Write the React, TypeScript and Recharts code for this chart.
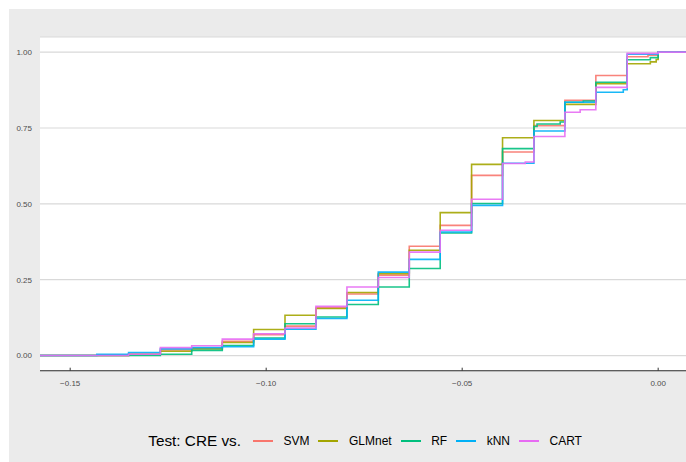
import { LineChart, Line, XAxis, YAxis, CartesianGrid } from 'recharts';

// ECDF breakpoints (x) and cumulative share per model after each step
const stepX = [
  -0.1577, -0.1432, -0.1351, -0.127, -0.119, -0.1112, -0.1032, -0.0952, -0.0873, -0.0794,
  -0.0714, -0.0635, -0.0556, -0.0476, -0.0397, -0.0339, -0.0317, -0.0309, -0.025, -0.0238,
  -0.0199, -0.0191, -0.0159, -0.0089, -0.0079, -0.0026, -0.002, -0.0005, 0, 0.0071,
];
const svm = [
  0, 0, 0.004, 0.018, 0.024, 0.047, 0.069, 0.097, 0.158, 0.203,
  0.265, 0.36, 0.429, 0.594, 0.671, 0.671, 0.758, 0.758, 0.758, 0.841,
  0.841, 0.841, 0.923, 0.923, 0.985, 0.99, 0.99, 0.99, 1, 1,
];
const glmnet = [
  0, 0, 0.004, 0.014, 0.022, 0.043, 0.086, 0.133, 0.155, 0.208,
  0.27, 0.347, 0.471, 0.63, 0.718, 0.718, 0.775, 0.775, 0.775, 0.828,
  0.828, 0.828, 0.896, 0.896, 0.962, 0.962, 0.968, 0.976, 1, 1,
];
const rf = [
  0, 0, 0, 0.004, 0.017, 0.033, 0.058, 0.105, 0.127, 0.168,
  0.226, 0.287, 0.404, 0.501, 0.682, 0.682, 0.755, 0.763, 0.77, 0.835,
  0.835, 0.839, 0.901, 0.901, 0.975, 0.975, 0.982, 0.982, 1, 1,
];
const knn = [
  0, 0.004, 0.01, 0.022, 0.026, 0.029, 0.054, 0.087, 0.122, 0.182,
  0.275, 0.317, 0.407, 0.495, 0.634, 0.634, 0.74, 0.74, 0.74, 0.835,
  0.835, 0.835, 0.868, 0.876, 0.993, 0.993, 0.993, 0.993, 1, 1,
];
const cart = [
  0, 0, 0.004, 0.026, 0.032, 0.054, 0.072, 0.091, 0.162, 0.226,
  0.257, 0.341, 0.413, 0.515, 0.633, 0.638, 0.722, 0.722, 0.722, 0.802,
  0.81, 0.81, 0.884, 0.884, 0.996, 0.996, 0.996, 0.996, 1, 1,
];

const xTicks = [-0.15, -0.1, -0.05, 0];
const yTicks = [0, 0.25, 0.5, 0.75, 1];

const series = [
  { key: 'SVM', values: svm, color: '#F8766D' },
  { key: 'GLMnet', values: glmnet, color: '#A3A500' },
  { key: 'RF', values: rf, color: '#00BF7D' },
  { key: 'kNN', values: knn, color: '#00B0F6' },
  { key: 'CART', values: cart, color: '#E76BF3' },
];

const data = stepX.map((x, i) => {
  const row: Record<string, number> = { x };
  series.forEach((s) => {
    row[s.key] = s.values[i];
  });
  return row;
});

const fmtX = (v: number) => (v < 0 ? `\u2212${Math.abs(v).toFixed(2)}` : v.toFixed(2));

function XTick({ x, y, payload }: any) {
  return (
    <g>
      <line x1={x} x2={x} y1={y - 3} y2={y} stroke="#333" strokeWidth={1} />
      <text x={x} y={y + 15} textAnchor="middle" fontSize={8} fill="#4D4D4D">
        {fmtX(payload.value)}
      </text>
    </g>
  );
}

export default function App() {
  return (
    <div
      style={{
        position: 'absolute',
        left: 9,
        top: 9,
        width: 677,
        height: 453,
        background: '#EBEBEB',
        fontFamily: '"Liberation Sans", Arial, sans-serif',
        overflow: 'hidden',
      }}
    >
      <LineChart
        width={677}
        height={453}
        data={data}
        margin={{ top: 28, right: 0, bottom: 71.3, left: 0 }}
      >
        <CartesianGrid vertical={false} fill="#FFFFFF" stroke="#D9D9D9" strokeWidth={1.2} />
        <XAxis
          dataKey="x"
          type="number"
          domain={[-0.1577, 0.0071]}
          allowDataOverflow
          ticks={xTicks}
          height={20}
          tickSize={0}
          tickMargin={0}
          tickLine={false}
          axisLine={{ stroke: '#333', strokeWidth: 1.1 }}
          tick={<XTick />}
        />
        <YAxis
          type="number"
          domain={[-0.05, 1.05]}
          allowDataOverflow
          ticks={yTicks}
          width={31}
          axisLine={false}
          tickLine={false}
          tickFormatter={(v) => Number(v).toFixed(2)}
          tick={{ fontSize: 8, fill: '#4D4D4D' }}
        />
        {series.map((s) => (
          <Line
            key={s.key}
            dataKey={s.key}
            type="stepAfter"
            stroke={s.color}
            strokeWidth={1.6}
            strokeOpacity={0.9}
            dot={false}
            activeDot={false}
            isAnimationActive={false}
          />
        ))}
      </LineChart>
      <div
        style={{
          position: 'absolute',
          left: 139.3,
          top: 422,
          height: 20,
          display: 'flex',
          alignItems: 'center',
          whiteSpace: 'nowrap',
          color: '#000',
        }}
      >
        <span style={{ fontSize: 15.3, marginRight: 3 }}>Test: CRE vs.</span>
        {series.map((s) => (
          <span key={s.key} style={{ display: 'flex', alignItems: 'center', marginLeft: 9 }}>
            <span style={{ display: 'inline-block', width: 20, height: 1.6, background: s.color }} />
            <span style={{ fontSize: 12, marginLeft: 10.5 }}>{s.key}</span>
          </span>
        ))}
      </div>
    </div>
  );
}
